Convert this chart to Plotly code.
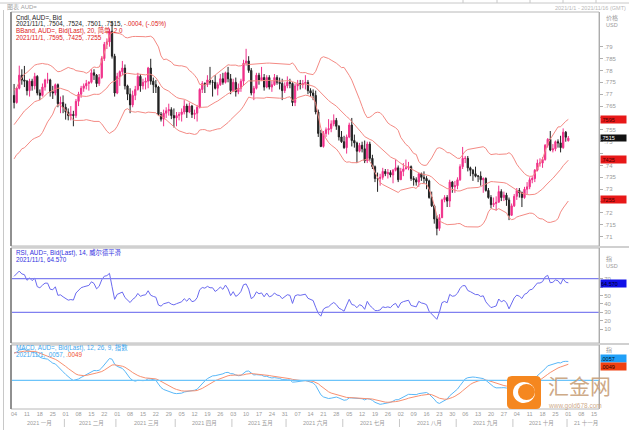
import numpy as np
import pandas as pd
import plotly.graph_objects as go

W, H = 629, 430

# ---------------- data (AUD= daily) ----------------
# closes before the visible window (Nov-Dec 2020), used only to warm up the indicators
warmup_close = [.7035, .7125, .7150, .7265, .7270, .7290, .7275, .7250, .7255, .7290, .7310,
                .7305, .7295, .7290, .7300, .7275, .7360, .7355, .7370, .7385, .7360,
                .7385, .7410, .7445, .7425, .7420, .7445, .7460, .7540, .7530, .7530, .7560,
                .7580, .7630, .7620, .7570, .7535, .7570, .7600, .7600, .7585, .7615, .7680, .7700]

opens = [
    .7695, .7665, .7725, .7780, .7760, .7755, .7715, .7755, .7735, .7775,
    .7705, .7695, .7730, .7760, .7760, .7710, .7705, .7740, .7660, .7665,
    .7645, .7625, .7610, .7615, .7610, .7670, .7700, .7725, .7735, .7745,
    .7750, .7790, .7780, .7745, .7770, .7850, .7910, .7920, .7965, .7860,
    .7705, .7775, .7795, .7810, .7735, .7700, .7655, .7695, .7720, .7775,
    .7735, .7750, .7755, .7810, .7755, .7740, .7730, .7615, .7595, .7620,
    .7630, .7635, .7610, .7600, .7610, .7615, .7625, .7650, .7625, .7650,
    .7615, .7620, .7645, .7720, .7745, .7740, .7760, .7750, .7750, .7725,
    .7740, .7765, .7750, .7790, .7765, .7715, .7750, .7710, .7725, .7755,
    .7830, .7840, .7800, .7705, .7725, .7780, .7760, .7770, .7730, .7770,
    .7730, .7740, .7770, .7750, .7745, .7715, .7735, .7750, .7745, .7665,
    .7735, .7745, .7740, .7745, .7750, .7715, .7705, .7695, .7625, .7535,
    .7480, .7535, .7550, .7555, .7575, .7590, .7565, .7520, .7500, .7475,
    .7520, .7570, .7505, .7495, .7460, .7485, .7470, .7420, .7490, .7430,
    .7395, .7345, .7345, .7350, .7375, .7365, .7370, .7360, .7380, .7390,
    .7340, .7375, .7385, .7390, .7395, .7345, .7340, .7330, .7365, .7350,
    .7345, .7335, .7265, .7230, .7175, .7135, .7180, .7255, .7265, .7250,
    .7330, .7310, .7315, .7340, .7395, .7430, .7430, .7390, .7380, .7365,
    .7355, .7355, .7340, .7345, .7295, .7265, .7235, .7240, .7245, .7290,
    .7265, .7275, .7255, .7190, .7230, .7270, .7295, .7285, .7265, .7300,
    .7310, .7340, .7345, .7380, .7410, .7410, .7425, .7485, .7510, .7465,
    .7470, .7500, .7495, .7475, .7540, .7504]

highs = [
    .7743, .7730, .7820, .7805, .7819, .7760, .7765, .7765, .7790, .7780,
    .7720, .7745, .7765, .7790, .7765, .7735, .7745, .7745, .7690, .7695,
    .7660, .7640, .7650, .7630, .7680, .7710, .7735, .7745, .7760, .7755,
    .7805, .7805, .7785, .7785, .7860, .7920, .7935, .7975, .8007, .7870,
    .7790, .7800, .7840, .7825, .7740, .7725, .7715, .7735, .7790, .7785,
    .7765, .7770, .7815, .7849, .7770, .7760, .7735, .7625, .7635, .7645,
    .7660, .7645, .7640, .7625, .7625, .7640, .7675, .7660, .7665, .7655,
    .7635, .7655, .7725, .7755, .7750, .7780, .7815, .7760, .7780, .7750,
    .7785, .7790, .7795, .7815, .7785, .7765, .7770, .7745, .7765, .7845,
    .7891, .7860, .7810, .7735, .7790, .7790, .7815, .7785, .7780, .7780,
    .7755, .7785, .7780, .7770, .7765, .7750, .7775, .7765, .7750, .7745,
    .7760, .7760, .7760, .7780, .7760, .7725, .7720, .7715, .7635, .7550,
    .7545, .7560, .7595, .7590, .7615, .7600, .7570, .7545, .7525, .7530,
    .7580, .7600, .7530, .7500, .7495, .7500, .7505, .7500, .7500, .7445,
    .7400, .7370, .7365, .7390, .7385, .7385, .7380, .7385, .7425, .7400,
    .7390, .7410, .7425, .7415, .7400, .7355, .7350, .7370, .7370, .7375,
    .7355, .7340, .7290, .7235, .7190, .7195, .7260, .7275, .7275, .7340,
    .7335, .7335, .7350, .7405, .7478, .7440, .7440, .7395, .7385, .7395,
    .7360, .7375, .7350, .7350, .7305, .7275, .7265, .7270, .7315, .7300,
    .7290, .7285, .7265, .7240, .7280, .7305, .7305, .7290, .7310, .7330,
    .7350, .7355, .7385, .7425, .7430, .7435, .7490, .7515, .7545, .7490,
    .7505, .7510, .7525, .7556, .7545, .7524]

lows = [
    .7640, .7660, .7720, .7740, .7730, .7695, .7690, .7715, .7720, .7695,
    .7675, .7690, .7715, .7745, .7690, .7680, .7695, .7645, .7620, .7620,
    .7593, .7590, .7590, .7565, .7600, .7650, .7685, .7710, .7720, .7715,
    .7745, .7760, .7730, .7735, .7765, .7840, .7890, .7900, .7850, .7690,
    .7700, .7735, .7780, .7720, .7675, .7620, .7645, .7675, .7715, .7710,
    .7720, .7720, .7725, .7740, .7705, .7705, .7610, .7585, .7565, .7600,
    .7610, .7595, .7560, .7565, .7590, .7585, .7615, .7600, .7620, .7600,
    .7595, .7585, .7640, .7705, .7705, .7730, .7740, .7690, .7720, .7695,
    .7735, .7740, .7745, .7750, .7700, .7710, .7690, .7700, .7710, .7735,
    .7820, .7790, .7695, .7675, .7720, .7740, .7755, .7715, .7725, .7720,
    .7710, .7735, .7740, .7720, .7675, .7705, .7725, .7725, .7650, .7650,
    .7715, .7720, .7725, .7720, .7700, .7690, .7675, .7615, .7520, .7477,
    .7475, .7520, .7530, .7540, .7565, .7550, .7505, .7495, .7470, .7450,
    .7515, .7480, .7475, .7410, .7455, .7455, .7410, .7410, .7420, .7385,
    .7330, .7289, .7315, .7340, .7355, .7345, .7350, .7325, .7375, .7330,
    .7340, .7355, .7385, .7380, .7335, .7315, .7315, .7310, .7335, .7325,
    .7300, .7260, .7225, .7155, .7106, .7125, .7180, .7245, .7225, .7225,
    .7285, .7285, .7300, .7335, .7385, .7410, .7375, .7355, .7335, .7350,
    .7330, .7315, .7285, .7290, .7260, .7220, .7225, .7210, .7245, .7250,
    .7250, .7230, .7170, .7190, .7225, .7255, .7265, .7225, .7260, .7280,
    .7300, .7325, .7330, .7375, .7395, .7390, .7420, .7475, .7460, .7455,
    .7460, .7475, .7455, .7470, .7500, .7501]

closes = [
    .7665, .7725, .7780, .7760, .7755, .7715, .7755, .7735, .7775, .7705,
    .7695, .7730, .7760, .7760, .7710, .7705, .7740, .7660, .7665, .7645,
    .7625, .7610, .7615, .7610, .7670, .7700, .7725, .7735, .7745, .7750,
    .7790, .7780, .7745, .7770, .7850, .7910, .7920, .7965, .7860, .7705,
    .7775, .7795, .7810, .7735, .7700, .7655, .7695, .7720, .7775, .7735,
    .7750, .7755, .7810, .7755, .7740, .7730, .7615, .7595, .7620, .7630,
    .7635, .7610, .7600, .7610, .7615, .7625, .7650, .7625, .7650, .7615,
    .7620, .7645, .7720, .7745, .7740, .7760, .7750, .7750, .7725, .7740,
    .7765, .7750, .7790, .7765, .7715, .7750, .7710, .7725, .7755, .7830,
    .7840, .7800, .7705, .7725, .7780, .7760, .7770, .7730, .7770, .7730,
    .7740, .7770, .7750, .7745, .7715, .7735, .7750, .7745, .7665, .7735,
    .7745, .7740, .7745, .7750, .7715, .7705, .7695, .7625, .7535, .7480,
    .7535, .7550, .7555, .7575, .7590, .7565, .7520, .7500, .7475, .7520,
    .7570, .7505, .7495, .7460, .7485, .7470, .7420, .7490, .7430, .7395,
    .7345, .7345, .7350, .7375, .7365, .7370, .7360, .7380, .7390, .7340,
    .7375, .7385, .7390, .7395, .7345, .7340, .7330, .7365, .7350, .7345,
    .7335, .7265, .7230, .7175, .7135, .7180, .7255, .7265, .7250, .7330,
    .7310, .7315, .7340, .7395, .7430, .7430, .7390, .7380, .7365, .7355,
    .7355, .7340, .7345, .7295, .7265, .7235, .7240, .7245, .7290, .7265,
    .7275, .7255, .7190, .7230, .7270, .7295, .7285, .7265, .7300, .7310,
    .7340, .7345, .7380, .7410, .7410, .7425, .7485, .7510, .7465, .7470,
    .7500, .7495, .7475, .7540, .7519, .7515]

assert len(opens) == len(highs) == len(lows) == len(closes) == 216, (len(opens), len(highs), len(lows), len(closes))

price_tick_vals = [.71, .715, .72, .725, .73, .735, .74, .745, .75, .755, .76, .765, .77, .775, .78, .785, .79]
# labels hidden behind the value tags on the reference are left blank
price_tick_text = [".71", ".715", ".72", "", ".73", ".735", ".74", "", ".75", ".755",
                   "", ".765", ".77", ".775", ".78", ".785", ".79"]
rsi_tick_vals = [10, 20, 30, 40, 50, 60, 70]
rsi_tick_text = ["10", "20", "30", "40", "50", "", "70"]
month_names = ["2021 一月", "2021 二月", "2021 三月", "2021 四月", "2021 五月", "2021 六月",
               "2021 七月", "2021 八月", "2021 九月", "2021 十月", "21 十一月"]

# last-value labels (as printed on the chart)
bb_last = [.7595, .7425, .7255]
bb_last_text = [".7595", ".7425", ".7255"]
close_last_text = ".7515"
rsi_last_text = "64.570"
macd_last = [.0057, .0049]
macd_last_text = [".0057", ".0049"]

# ---------------- indicators ----------------
all_close = pd.Series(warmup_close + closes)
n_warm = len(warmup_close)
mid = all_close.rolling(20).mean()
sd = all_close.rolling(20).std(ddof=0)
bb_up = (mid + 2 * sd).iloc[n_warm:].values
bb_mid = mid.iloc[n_warm:].values
bb_lo = (mid - 2 * sd).iloc[n_warm:].values

d = all_close.diff()
gain = d.clip(lower=0).ewm(alpha=1 / 14, adjust=False).mean()
loss = (-d.clip(upper=0)).ewm(alpha=1 / 14, adjust=False).mean()
rsi = (100 - 100 / (1 + gain / loss)).iloc[n_warm:].values

ema12 = all_close.ewm(span=12, adjust=False).mean()
ema26 = all_close.ewm(span=26, adjust=False).mean()
macd_s = ema12 - ema26
sig_s = macd_s.ewm(span=9, adjust=False).mean()
macd = macd_s.iloc[n_warm:].values
sig = sig_s.iloc[n_warm:].values

# ---------------- x positions (trading-day index) ----------------
axis_days = pd.bdate_range("2021-01-04", "2021-11-19")
xi = np.arange(len(closes))
mondays = [i for i, dd in enumerate(axis_days) if dd.weekday() == 0]
monday_text = [axis_days[i].strftime("%d") for i in mondays]
month_start = [i for i, dd in enumerate(axis_days) if i == 0 or dd.month != axis_days[i - 1].month]
month_end = month_start[1:] + [len(axis_days) - 1]


def px(x):
    return x / W


def py(y):
    return 1 - y / H


FONT = "Liberation Sans, Noto Sans CJK SC, sans-serif"
GRAY = "#9a9a9a"

fig = go.Figure()

for band in (bb_up, bb_mid, bb_lo):
    fig.add_trace(go.Scatter(x=xi, y=band, mode="lines", line=dict(color="#f48a84", width=1), hoverinfo="skip"))
fig.add_trace(go.Candlestick(
    x=xi, open=opens, high=highs, low=lows, close=closes,
    increasing=dict(line=dict(color="#f0308a", width=1), fillcolor="#f0308a"),
    decreasing=dict(line=dict(color="#222222", width=1), fillcolor="#222222"),
    whiskerwidth=0, hoverinfo="skip"))

fig.add_trace(go.Scatter(x=xi, y=rsi, mode="lines", line=dict(color="#6a6af0", width=1),
                         xaxis="x", yaxis="y2", hoverinfo="skip"))
fig.add_trace(go.Scatter(x=xi, y=macd, mode="lines", line=dict(color="#5ab8f8", width=1),
                         xaxis="x", yaxis="y3", hoverinfo="skip"))
fig.add_trace(go.Scatter(x=xi, y=sig, mode="lines", line=dict(color="#f89070", width=1),
                         xaxis="x", yaxis="y3", hoverinfo="skip"))

XL, XR = 11, 599
xr = [-1.2, 226.9]
P_TOP, P_BOT = 12, 246
R_TOP, R_BOT = 248, 343
M_TOP, M_BOT = 345, 409

yax_common = dict(side="right", showgrid=False, zeroline=False, ticks="outside", ticklen=3,
                  tickcolor="#b0b0b0", tickfont=dict(size=6, color=GRAY, family=FONT),
                  showline=True, linecolor="#a0a0a0", linewidth=1, fixedrange=True)

fig.update_layout(
    width=W, height=H, margin=dict(l=0, r=0, t=0, b=0),
    paper_bgcolor="white", plot_bgcolor="white", showlegend=False,
    font=dict(family=FONT),
    xaxis=dict(domain=[px(XL), px(XR)], range=xr, anchor="y3", showgrid=False, zeroline=False,
               rangeslider=dict(visible=False), tickmode="array", tickvals=mondays, ticktext=monday_text,
               tickfont=dict(size=5.5, color=GRAY, family=FONT), ticks="", showline=False, fixedrange=True),
    yaxis=dict(domain=[py(P_BOT), py(P_TOP)], range=[.7061, .8046], anchor="x",
               tickmode="array", tickvals=price_tick_vals, ticktext=price_tick_text, **yax_common),
    yaxis2=dict(domain=[py(R_BOT), py(R_TOP)], range=[-6.5, 106.5], anchor="x",
                tickmode="array", tickvals=rsi_tick_vals, ticktext=rsi_tick_text, **yax_common),
    yaxis3=dict(domain=[py(M_BOT), py(M_TOP)], range=[-0.0083, 0.0103], anchor="x",
                tickmode="array", tickvals=[], **yax_common),
)

shapes = []
# RSI 70 / 30 lines, MACD zero line
for v in (70, 30):
    shapes.append(dict(type="line", xref="paper", yref="y2", x0=px(XL), x1=px(XR), y0=v, y1=v,
                       line=dict(color="#8080f0", width=1.2)))
shapes.append(dict(type="line", xref="paper", yref="y3", x0=px(XL), x1=px(XR), y0=0, y1=0,
                   line=dict(color="#6cc4fa", width=1.2)))
# pane frames
for t, b in ((P_TOP, P_BOT), (R_TOP, R_BOT), (M_TOP, M_BOT)):
    shapes.append(dict(type="rect", xref="paper", yref="paper", x0=px(XL), x1=px(XR), y0=py(b), y1=py(t),
                       line=dict(color="#b8b8b8", width=1)))
    shapes.append(dict(type="line", xref="paper", yref="paper", x0=px(XL), x1=px(XL), y0=py(b), y1=py(t),
                       line=dict(color="#909090", width=2)))
# pane separators
for y in (247, 344):
    shapes.append(dict(type="line", xref="paper", yref="paper", x0=px(XL), x1=1, y0=py(y), y1=py(y),
                       line=dict(color="#d0d0d0", width=2)))
# outer left line and top bar
shapes.append(dict(type="line", xref="paper", yref="paper", x0=px(3.5), x1=px(3.5), y0=0, y1=py(10),
                   line=dict(color="#c8c8c8", width=1)))
shapes.append(dict(type="line", xref="paper", yref="paper", x0=0, x1=1, y0=py(3), y1=py(3),
                   line=dict(color="#c8c8c8", width=1)))
for xx in (463, 497, 530, 563, 596):
    shapes.append(dict(type="line", xref="paper", yref="paper", x0=px(xx), x1=px(xx), y0=py(0), y1=py(3),
                       line=dict(color="#c8c8c8", width=1)))
# month separators on the date axis
for s in month_start[1:]:
    shapes.append(dict(type="line", xref="x", yref="paper", x0=s - 0.5, x1=s - 0.5, y0=py(427), y1=py(419),
                       line=dict(color="#c8c8c8", width=1)))
# watermark logo
shapes.append(dict(type="path", xref="paper", yref="paper",
                   path=f"M {px(512)},{py(376)} L {px(536)},{py(376)} Q {px(541)},{py(376)} {px(541)},{py(381)} "
                        f"L {px(541)},{py(404)} Q {px(541)},{py(409)} {px(536)},{py(409)} L {px(512)},{py(409)} "
                        f"Q {px(507)},{py(409)} {px(507)},{py(404)} L {px(507)},{py(381)} Q {px(507)},{py(376)} {px(512)},{py(376)} Z",
                   fillcolor="#f5871f", line=dict(width=0)))
shapes.append(dict(type="circle", xref="paper", yref="paper", x0=px(513), x1=px(535), y0=py(403), y1=py(382),
                   fillcolor="white", line=dict(width=0)))
shapes.append(dict(type="circle", xref="paper", yref="paper", x0=px(518), x1=px(535), y0=py(400), y1=py(384),
                   fillcolor="#f5871f", line=dict(width=0)))
fig.update_layout(shapes=shapes)

ann = []


def text(x, y, s, size=6, color="#333", anchor="left", yanchor="middle", **kw):
    ann.append(dict(xref="paper", yref="paper", x=px(x), y=py(y), text=s, showarrow=False,
                    xanchor=anchor, yanchor=yanchor, font=dict(size=size, color=color, family=FONT), **kw))


text(5, 7, "图表 AUD=", 6, "#a0a0a0")
text(628, 8.5, "2021/1/1 - 2021/11/16 (GMT)", 5.5, "#b8b8b8", anchor="right")
# price pane header
text(14, 17.5, "Cndl, AUD=, Bid", 6.3, "#222")
text(14, 24, "2021/11/1, .7504, .7524, .7501, .7515, <span style='color:#e02020'>-.0004, (-.05%)</span>", 6.3, "#222")
text(14, 31, "BBand, AUD=, Bid(Last), 20, 简单, 2.0", 6.3, "#e02020")
text(14, 37.5, "2021/11/1, .7595, .7425, .7255", 6.3, "#e02020")
text(604, 18, "价格", 6, GRAY)
text(604, 25, "USD", 5.5, GRAY)
# RSI header
text(14, 252.5, "RSI, AUD=, Bid(Last), 14, 威尔德平滑", 6.3, "#3030e0")
text(14, 259, "2021/11/1, 64.570", 6.3, "#3030e0")
text(604, 259, "指", 6, GRAY)
text(604, 266, "USD", 5.5, GRAY)
# MACD header
text(14, 347.5, "MACD, AUD=, Bid(Last), 12, 26, 9, 指数", 6.3, "#40a8f0")
text(14, 354, "2021/11/1, <span style='color:#40a8f0'>.0057</span>, <span style='color:#f05030'>.0049</span>", 6.3, "#40a8f0")
text(604, 350, "指", 6, GRAY)

# month labels
for k, (s, e) in enumerate(zip(month_start, month_end)):
    if k >= len(month_names):
        break
    ann.append(dict(xref="x", yref="paper", x=(s + e) / 2, y=py(423), text=month_names[k], showarrow=False,
                    xanchor="center", yanchor="middle", font=dict(size=5.5, color=GRAY, family=FONT)))


def tag(yref, yv, s, bg, fg, h=7):
    ann.append(dict(xref="paper", yref=yref, x=px(600), y=yv, text=s, showarrow=False, xanchor="left",
                    yanchor="middle", bgcolor=bg, width=25, height=h, borderpad=0, align="left",
                    font=dict(size=5.5, color=fg, family=FONT)))


tag("y", bb_last[0], bb_last_text[0], "#e81818", "#400")
tag("y", closes[-1] + 0.0002, close_last_text, "#111111", "white", h=6)
tag("y", bb_last[1], bb_last_text[1], "#e81818", "#400")
tag("y", bb_last[2], bb_last_text[2], "#e81818", "#400")
tag("y2", 64.57, rsi_last_text, "#1010e8", "#001")
tag("y3", macd_last[0] + 0.0008, macd_last_text[0], "#20a0f8", "#012")
tag("y3", macd_last[1] - 0.0008, macd_last_text[1], "#f04010", "#200")

# watermark text
text(546, 386, "汇金网", 21, "rgba(200,158,120,0.9)")
text(546, 406, "www.gold678.com", 6.5, "rgba(200,158,120,0.9)")

fig.update_layout(annotations=ann)
fig.write_html("out.html", config={"displayModeBar": False, "staticPlot": True},
               post_script="document.body.style.margin='0';document.body.style.overflow='hidden';")
